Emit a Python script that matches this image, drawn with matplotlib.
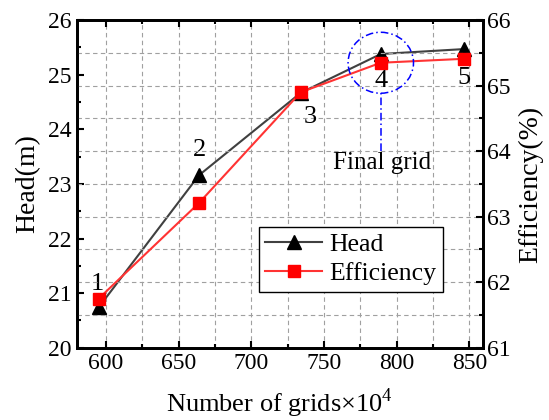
import matplotlib
matplotlib.use('Agg')
import matplotlib.pyplot as plt
from matplotlib.patches import Ellipse
from matplotlib.ticker import MultipleLocator

plt.rcParams['font.family'] = ['Liberation Serif', 'DejaVu Serif']
plt.rcParams['mathtext.fontset'] = 'custom'
plt.rcParams['mathtext.rm'] = 'Liberation Serif'

# grid independence data
grids = [595, 664, 734, 789, 846]          # number of grids x 10^4
head = [20.74, 23.16, 24.67, 25.38, 25.47]  # m
eff = [61.75, 63.21, 64.90, 65.35, 65.41]   # %
point_labels = ['1', '2', '3', '4', '5']
# label offsets in points from each point
label_offsets = [(-1, 17), (0, 18), (7, -18), (0, -13), (0, -14)]

fig = plt.figure(figsize=(5.49, 4.2), dpi=100)
ax = fig.add_axes([0.140, 0.172, 0.739, 0.780])
ax2 = ax.twinx()

ax.set_xlim(580, 859)
ax.set_ylim(20, 26)
ax2.set_ylim(61, 66)

ax.xaxis.set_major_locator(MultipleLocator(50))
ax.xaxis.set_minor_locator(MultipleLocator(25))
ax.yaxis.set_major_locator(MultipleLocator(1))
ax.yaxis.set_minor_locator(MultipleLocator(0.5))
ax2.yaxis.set_major_locator(MultipleLocator(1))
ax2.yaxis.set_minor_locator(MultipleLocator(0.5))

# dashed grid: vertical from x ticks, horizontal from the efficiency axis
ax.grid(True, which='both', axis='x', ls=(0, (4, 3)), color='#a0a0a0', lw=0.8)
ax2.grid(True, which='both', axis='y', ls=(0, (4, 3)), color='#a0a0a0', lw=0.8)
ax.set_axisbelow(True)

for a in (ax, ax2):
    for s in a.spines.values():
        s.set_linewidth(2)
ax.tick_params(which='both', direction='in', top=True, right=False, labelsize=17, width=1.5)
ax.tick_params(which='major', length=5)
ax.tick_params(which='minor', length=3)
ax2.tick_params(which='both', direction='in', labelsize=17, width=1.5)
ax2.tick_params(which='major', length=5)
ax2.tick_params(which='minor', length=3)

l1, = ax.plot(grids, head, '-', color='#404040', lw=1.5, marker='^',
              ms=10, mfc='black', mec='black', label='Head', zorder=3)
l2, = ax2.plot(grids, eff, '-', color='#ff3333', lw=1.5, marker='s',
               ms=9, mfc='red', mec='red', label='Efficiency', zorder=3)

ref = [head[0], head[1], eff[2], eff[3], eff[4]]
for i, t in enumerate(point_labels):
    a = ax if i < 2 else ax2
    a.annotate(t, (grids[i], ref[i]), xytext=label_offsets[i],
               textcoords='offset points', ha='center', va='center', fontsize=19)

# highlight the chosen mesh
ax2.add_patch(Ellipse((grids[3], eff[3]), 45, 0.93, fill=False,
                      ec='blue', ls=(0, (5, 2, 1, 2)), lw=1.1, zorder=4))
ax2.plot([grids[3], grids[3]], [64.0, eff[3] - 0.465], color='blue',
         ls=(0, (5, 2, 1, 2)), lw=1.1, zorder=4)
ax2.text(grids[3] + 1, 63.82, 'Final grid', ha='center', va='center', fontsize=18)

ax.set_xlabel('Number of grids×10$^{\\mathrm{4}}$', fontsize=19, labelpad=9)
ax.set_ylabel('Head(m)', fontsize=20, labelpad=6)
ax2.set_ylabel('Efficiency(%)', fontsize=20, labelpad=5)

leg = ax2.legend(handles=[l1, l2], loc='upper left', bbox_to_anchor=(0.449, 0.370),
                 borderaxespad=0, fancybox=False, edgecolor='black', fontsize=18.5,
                 handlelength=2.2, framealpha=1, borderpad=0.25,
                 labelspacing=0.25, handletextpad=0.3)
leg.get_frame().set_linewidth(1.0)

fig.savefig('out.png', dpi=100)
